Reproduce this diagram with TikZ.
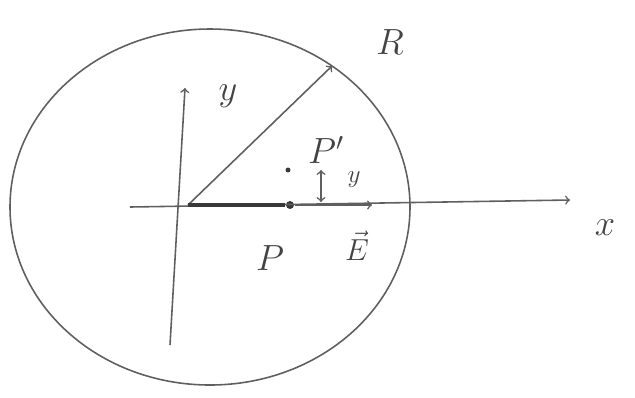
\documentclass[tikz,border=0pt]{standalone}
\usepackage{amsmath}
\usepackage{tikz}
\usetikzlibrary{calc,positioning,arrows}

\definecolor{pen}{RGB}{95,95,95}

\begin{document}
\begin{tikzpicture}[x=0.02cm,y=-0.02cm,ele/.style={fill=pen!60!black,circle,minimum width=.8pt,inner sep=1.6pt},lab/.style={text=pen!70!black,font=\huge}, every path/.style={draw=pen,line width=0.9pt}]
  \useasboundingbox[draw=none] (0,0) rectangle (635,397);
  \draw (210,207) ellipse [x radius=200, y radius=178];

  \coordinate (O) at (188,205);
  \coordinate (xl) at (130,207);
  \coordinate (xr) at (570,200);
  \coordinate (yb) at (170,345);
  \coordinate (yt) at (185,88);
  \coordinate (rt) at (332,66);
  \coordinate (Et) at (372,205);
  \node[ele] (p) at (290,205) {};
  \node[ele,inner sep=1pt] (pp) at (288,170) {};
  \coordinate (db) at (321,202);
  \coordinate (dt) at (321,170);

  \node[lab] (xlab) at (605,228) {$x$};
  \node[lab] (ylab) at (228,96) {$y$};
  \node[lab] (rlab) at (390,42) {$R$};
  \node[lab] (plab) at (270,258) {$P$};
  \node[lab] (pplab) at (326,150) {$P'$};
  \node[lab,font=\Large] (dlab) at (354,180) {$y$};
  \node[lab,font=\LARGE] (elab) at (357,246) {$\vec{E}$};

  \draw[->] (xl) -- (xr);
  \draw[->] (yb) -- (yt);
  \draw[->] (O) -- (rt);
  \draw[line width=2pt,draw=pen!60!black] (O) -- (p);
  \draw[->] (p) -- (Et);
  \draw[<->] (db) -- (dt);
 \end{tikzpicture}
\end{document}
